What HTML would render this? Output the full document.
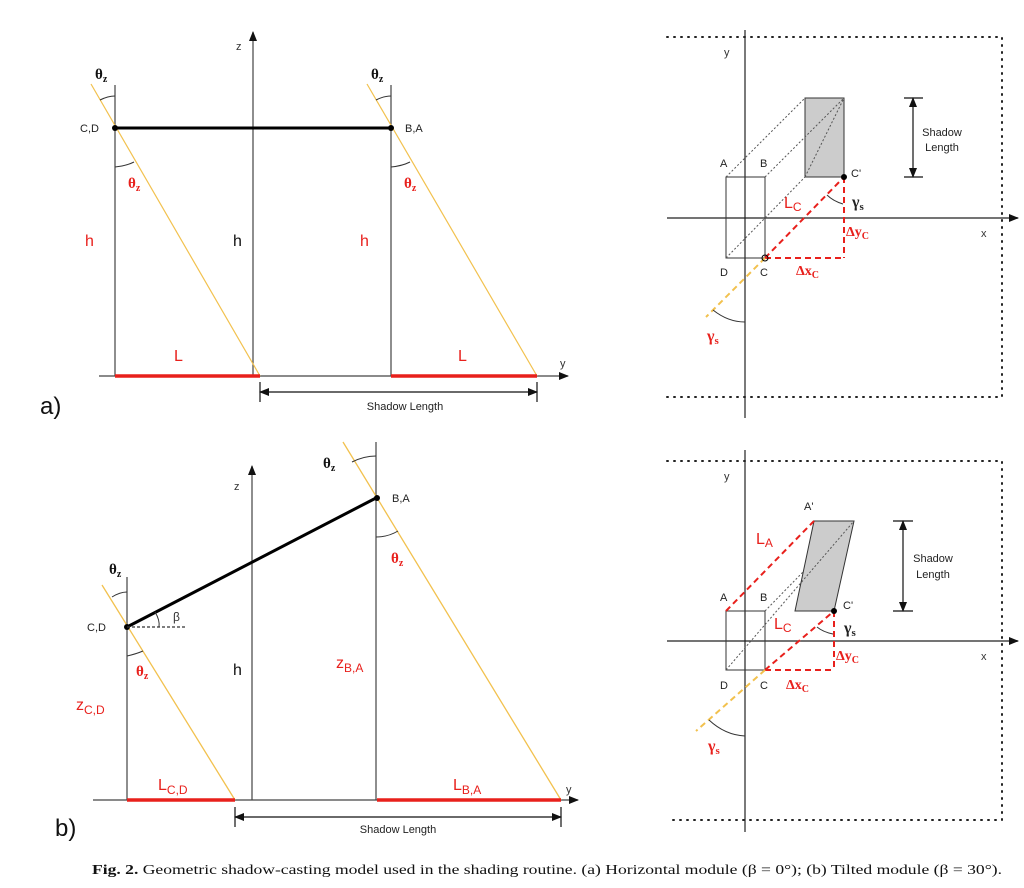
<!DOCTYPE html>
<html><head><meta charset="utf-8"><style>
html,body{margin:0;padding:0;background:#fff;}
svg{display:block;}
text{font-family:"Liberation Sans",sans-serif;}
.s{font-family:"Liberation Serif",serif;font-weight:bold;}
</style></head><body>
<svg width="1024" height="888" viewBox="0 0 1024 888" xmlns="http://www.w3.org/2000/svg">
<defs>
<marker id="ah" markerWidth="10" markerHeight="8" refX="9" refY="4" orient="auto" markerUnits="userSpaceOnUse"><path d="M0,0 L10,4 L0,8 z" fill="#111"/></marker>
<marker id="ahs" markerWidth="10" markerHeight="8" refX="9" refY="4" orient="auto-start-reverse" markerUnits="userSpaceOnUse"><path d="M0,0 L10,4 L0,8 z" fill="#111"/></marker>
</defs>
<rect width="1024" height="888" fill="#fff"/>

<!-- ===== Panel a ===== -->
<g stroke="#444" stroke-width="1.2" fill="none">
<line x1="99" y1="376" x2="568" y2="376" marker-end="url(#ah)"/>
<line x1="253" y1="376" x2="253" y2="32" marker-end="url(#ah)"/>
<line x1="115" y1="85" x2="115" y2="376"/>
<line x1="391" y1="85" x2="391" y2="376"/>
</g>
<g stroke="#f2c14e" stroke-width="1.2">
<line x1="91" y1="84" x2="260" y2="376"/>
<line x1="367" y1="84" x2="537" y2="376"/>
</g>
<line x1="115" y1="128" x2="391" y2="128" stroke="#000" stroke-width="3"/>
<circle cx="115" cy="128" r="3" fill="#000"/><circle cx="391" cy="128" r="3" fill="#000"/>
<g stroke="#e8201c" stroke-width="3.5"><line x1="115" y1="376" x2="260" y2="376"/><line x1="391" y1="376" x2="537" y2="376"/></g>
<g stroke="#333" stroke-width="1" fill="none">
<path d="M100,100 Q108,96 115,96"/><path d="M376,100 Q384,96 391,96"/>
<path d="M115,167 Q126,166 134,162"/><path d="M391,167 Q402,166 410,162"/>
</g>
<g stroke="#111" stroke-width="1.2">
<line x1="260" y1="392" x2="537" y2="392" marker-start="url(#ahs)" marker-end="url(#ahs)"/>
<line x1="260" y1="382" x2="260" y2="402"/><line x1="537" y1="382" x2="537" y2="402"/>
</g>
<text x="405" y="410" font-size="11" text-anchor="middle" fill="#222">Shadow Length</text>
<text x="236" y="50" font-size="11" fill="#333">z</text>
<text x="560" y="367" font-size="11" fill="#333">y</text>
<text x="80" y="132" font-size="11" fill="#222">C,D</text>
<text x="405" y="132" font-size="11" fill="#222">B,A</text>
<text class="s" x="95" y="79" font-size="15" fill="#111">θ<tspan font-size="10" dy="3">z</tspan></text>
<text class="s" x="371" y="79" font-size="15" fill="#111">θ<tspan font-size="10" dy="3">z</tspan></text>
<text class="s" x="128" y="188" font-size="15" fill="#e8201c">θ<tspan font-size="10" dy="3">z</tspan></text>
<text class="s" x="404" y="188" font-size="15" fill="#e8201c">θ<tspan font-size="10" dy="3">z</tspan></text>
<text x="85" y="246" font-size="16" fill="#e8201c">h</text>
<text x="233" y="246" font-size="16" fill="#111">h</text>
<text x="360" y="246" font-size="16" fill="#e8201c">h</text>
<text x="174" y="361" font-size="16" fill="#e8201c">L</text>
<text x="458" y="361" font-size="16" fill="#e8201c">L</text>
<text x="40" y="414" font-size="24" fill="#111">a)</text>

<!-- ===== Panel b ===== -->
<g stroke="#444" stroke-width="1.2" fill="none">
<line x1="93" y1="800" x2="578" y2="800" marker-end="url(#ah)"/>
<line x1="252" y1="800" x2="252" y2="466" marker-end="url(#ah)"/>
<line x1="127" y1="577" x2="127" y2="800"/>
<line x1="376" y1="442" x2="376" y2="800"/>
</g>
<g stroke="#f2c14e" stroke-width="1.3">
<line x1="102" y1="585" x2="235" y2="800"/>
<line x1="343" y1="442" x2="561" y2="800"/>
</g>
<line x1="127" y1="627" x2="376" y2="498" stroke="#000" stroke-width="3"/>
<circle cx="127" cy="627" r="3" fill="#000"/><circle cx="377" cy="498" r="3" fill="#000"/>
<line x1="127" y1="627" x2="185" y2="627" stroke="#333" stroke-width="1.2" stroke-dasharray="3,2"/>
<g stroke="#e8201c" stroke-width="3.5"><line x1="127" y1="800" x2="235" y2="800"/><line x1="377" y1="800" x2="561" y2="800"/></g>
<g stroke="#333" stroke-width="1" fill="none">
<path d="M112,597 Q120,592 127,592"/><path d="M352,462 Q364,456 376,456"/>
<path d="M127,656 Q136,654 143,651"/><path d="M376,537 Q388,537 398,531"/>
<path d="M155,612 Q160,620 159,627"/>
</g>
<g stroke="#111" stroke-width="1.2">
<line x1="235" y1="817" x2="561" y2="817" marker-start="url(#ahs)" marker-end="url(#ahs)"/>
<line x1="235" y1="807" x2="235" y2="827"/><line x1="561" y1="807" x2="561" y2="827"/>
</g>
<text x="398" y="833" font-size="11" text-anchor="middle" fill="#222">Shadow Length</text>
<text x="234" y="490" font-size="11" fill="#333">z</text>
<text x="566" y="793" font-size="11" fill="#333">y</text>
<text x="87" y="631" font-size="11" fill="#222">C,D</text>
<text x="392" y="502" font-size="11" fill="#222">B,A</text>
<text x="173" y="621" font-size="12" fill="#333">β</text>
<text class="s" x="109" y="574" font-size="15" fill="#111">θ<tspan font-size="10" dy="3">z</tspan></text>
<text class="s" x="323" y="468" font-size="15" fill="#111">θ<tspan font-size="10" dy="3">z</tspan></text>
<text class="s" x="136" y="676" font-size="15" fill="#e8201c">θ<tspan font-size="10" dy="3">z</tspan></text>
<text class="s" x="391" y="563" font-size="15" fill="#e8201c">θ<tspan font-size="10" dy="3">z</tspan></text>
<text x="76" y="710" font-size="16" fill="#e8201c">z<tspan font-size="12" dy="4">C,D</tspan></text>
<text x="336" y="668" font-size="16" fill="#e8201c">z<tspan font-size="12" dy="4">B,A</tspan></text>
<text x="233" y="675" font-size="16" fill="#111">h</text>
<text x="158" y="790" font-size="16" fill="#e8201c">L<tspan font-size="12" dy="4">C,D</tspan></text>
<text x="453" y="790" font-size="16" fill="#e8201c">L<tspan font-size="12" dy="4">B,A</tspan></text>
<text x="55" y="836" font-size="24" fill="#111">b)</text>

<!-- ===== Right top ===== -->
<g stroke="#222" stroke-width="2" stroke-dasharray="1,6" stroke-linecap="round" fill="none">
<path d="M667,37 H1002 V397 H667"/>
</g>
<line x1="745" y1="30" x2="745" y2="418" stroke="#222" stroke-width="1.2"/>
<line x1="667" y1="218" x2="1018" y2="218" stroke="#222" stroke-width="1.2" marker-end="url(#ah)"/>
<rect x="805" y="98" width="39" height="79" fill="#cccccc" stroke="#333" stroke-width="1"/>
<rect x="726" y="177" width="39" height="81" fill="none" stroke="#333" stroke-width="1"/>
<g stroke="#555" stroke-width="1" stroke-dasharray="2,2">
<line x1="726" y1="177" x2="805" y2="98"/><line x1="765" y1="177" x2="844" y2="98"/>
<line x1="726" y1="258" x2="805" y2="177"/><line x1="805" y1="177" x2="844" y2="98"/>
</g>
<g stroke="#e8201c" stroke-width="2" stroke-dasharray="6,4" fill="none">
<line x1="765" y1="258" x2="844" y2="177"/><line x1="844" y1="177" x2="844" y2="258"/><line x1="765" y1="258" x2="844" y2="258"/>
</g>
<line x1="765" y1="258" x2="706" y2="317" stroke="#f2c14e" stroke-width="2" stroke-dasharray="6,4"/>
<circle cx="844" cy="177" r="3" fill="#000"/><circle cx="765" cy="258" r="3" fill="none" stroke="#000"/>
<path d="M713,310 Q728,322 745,322" stroke="#333" fill="none"/>
<path d="M827,195 Q833,201 843,204" stroke="#333" fill="none"/>
<g stroke="#111" stroke-width="1.2">
<line x1="913" y1="98" x2="913" y2="177" marker-start="url(#ahs)" marker-end="url(#ahs)"/>
<line x1="904" y1="98" x2="923" y2="98"/><line x1="904" y1="177" x2="923" y2="177"/>
</g>
<text x="942" y="136" font-size="11" text-anchor="middle" fill="#222">Shadow</text>
<text x="942" y="151" font-size="11" text-anchor="middle" fill="#222">Length</text>
<text x="724" y="56" font-size="11" fill="#333">y</text>
<text x="981" y="237" font-size="11" fill="#333">x</text>
<text x="720" y="167" font-size="11" fill="#222">A</text>
<text x="760" y="167" font-size="11" fill="#222">B</text>
<text x="720" y="276" font-size="11" fill="#222">D</text>
<text x="760" y="276" font-size="11" fill="#222">C</text>
<text x="851" y="177" font-size="11" fill="#222">C'</text>
<text x="784" y="208" font-size="16" fill="#e8201c">L<tspan font-size="12" dy="3">C</tspan></text>
<text class="s" x="852" y="207" font-size="16" fill="#222">γ<tspan font-size="11" dy="3">s</tspan></text>
<text class="s" x="846" y="236" font-size="14" fill="#e8201c">Δy<tspan font-size="10" dy="3">C</tspan></text>
<text class="s" x="796" y="275" font-size="14" fill="#e8201c">Δx<tspan font-size="10" dy="3">C</tspan></text>
<text class="s" x="707" y="341" font-size="16" fill="#e8201c">γ<tspan font-size="11" dy="3">s</tspan></text>

<!-- ===== Right bottom ===== -->
<g stroke="#222" stroke-width="2" stroke-dasharray="1,6" stroke-linecap="round" fill="none">
<path d="M667,461 H1002 V820 H667"/>
</g>
<line x1="745" y1="450" x2="745" y2="832" stroke="#222" stroke-width="1.2"/>
<line x1="667" y1="641" x2="1018" y2="641" stroke="#222" stroke-width="1.2" marker-end="url(#ah)"/>
<polygon points="814,521 854,521 834,611 795,611" fill="#cccccc" stroke="#333" stroke-width="1"/>
<rect x="726" y="611" width="39" height="59" fill="none" stroke="#333" stroke-width="1"/>
<g stroke="#555" stroke-width="1" stroke-dasharray="2,2">
<line x1="726" y1="670" x2="854" y2="521"/><line x1="765" y1="611" x2="803" y2="572"/>
</g>
<g stroke="#e8201c" stroke-width="2" stroke-dasharray="6,4" fill="none">
<line x1="726" y1="611" x2="814" y2="521"/>
<line x1="765" y1="670" x2="834" y2="611"/><line x1="834" y1="611" x2="834" y2="670"/><line x1="765" y1="670" x2="834" y2="670"/>
</g>
<line x1="765" y1="670" x2="696" y2="731" stroke="#f2c14e" stroke-width="2" stroke-dasharray="6,4"/>
<circle cx="834" cy="611" r="3" fill="#000"/>
<path d="M709,720 Q725,735 745,736" stroke="#333" fill="none"/>
<path d="M817,627 Q823,632 833,634" stroke="#333" fill="none"/>
<g stroke="#111" stroke-width="1.2">
<line x1="903" y1="521" x2="903" y2="611" marker-start="url(#ahs)" marker-end="url(#ahs)"/>
<line x1="893" y1="521" x2="913" y2="521"/><line x1="893" y1="611" x2="913" y2="611"/>
</g>
<text x="933" y="562" font-size="11" text-anchor="middle" fill="#222">Shadow</text>
<text x="933" y="578" font-size="11" text-anchor="middle" fill="#222">Length</text>
<text x="724" y="480" font-size="11" fill="#333">y</text>
<text x="981" y="660" font-size="11" fill="#333">x</text>
<text x="804" y="510" font-size="11" fill="#222">A'</text>
<text x="720" y="601" font-size="11" fill="#222">A</text>
<text x="760" y="601" font-size="11" fill="#222">B</text>
<text x="720" y="689" font-size="11" fill="#222">D</text>
<text x="760" y="689" font-size="11" fill="#222">C</text>
<text x="843" y="609" font-size="11" fill="#222">C'</text>
<text x="756" y="544" font-size="16" fill="#e8201c">L<tspan font-size="12" dy="3">A</tspan></text>
<text x="774" y="629" font-size="16" fill="#e8201c">L<tspan font-size="12" dy="3">C</tspan></text>
<text class="s" x="844" y="633" font-size="16" fill="#222">γ<tspan font-size="11" dy="3">s</tspan></text>
<text class="s" x="836" y="660" font-size="14" fill="#e8201c">Δy<tspan font-size="10" dy="3">C</tspan></text>
<text class="s" x="786" y="689" font-size="14" fill="#e8201c">Δx<tspan font-size="10" dy="3">C</tspan></text>
<text class="s" x="708" y="751" font-size="16" fill="#e8201c">γ<tspan font-size="11" dy="3">s</tspan></text>

<!-- caption -->
<text x="92" y="874" font-size="14" fill="#111" textLength="910" lengthAdjust="spacingAndGlyphs" style="font-family:'Liberation Serif',serif"><tspan font-weight="bold">Fig. 2.</tspan> Geometric shadow-casting model used in the shading routine. (a) Horizontal module (β = 0°); (b) Tilted module (β = 30°).</text>
</svg>
</body></html>
